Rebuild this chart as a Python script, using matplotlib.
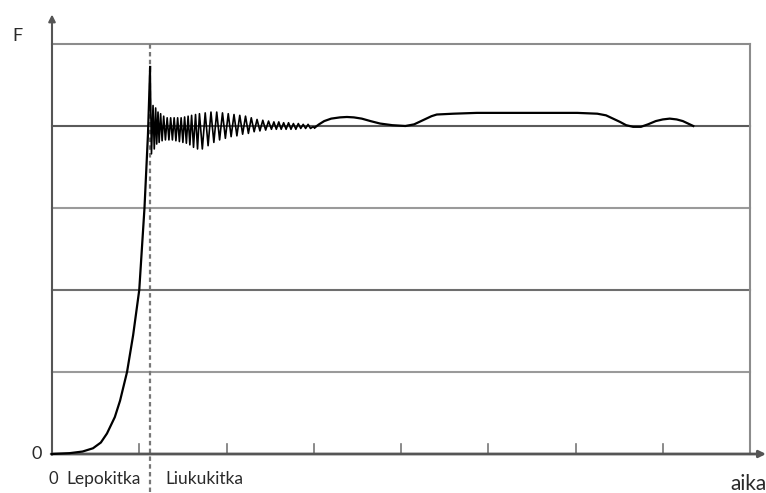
import matplotlib.pyplot as plt

# time axis: tick units, force axis: grid levels (4 = kinetic friction level)
rise_t = [0.0, 0.2, 0.35, 0.47, 0.56, 0.63, 0.72, 0.78, 0.86, 0.93, 1.0, 1.06, 1.1]
rise_f = [0.0, 0.01, 0.03, 0.07, 0.14, 0.25, 0.45, 0.65, 1.0, 1.45, 2.0, 3.0, 3.9]

osc_t = [1.125, 1.140, 1.158, 1.172, 1.188, 1.200, 1.215, 1.228, 1.245, 1.262,
         1.280, 1.300, 1.320, 1.340, 1.360, 1.380, 1.400, 1.420, 1.440, 1.460,
         1.480, 1.500, 1.520, 1.540, 1.560, 1.580, 1.600, 1.622, 1.645, 1.668,
         1.690, 1.723, 1.756, 1.789, 1.822, 1.855, 1.888, 1.921, 1.954, 1.987,
         2.020, 2.053, 2.086, 2.119, 2.152, 2.185, 2.218, 2.251, 2.284, 2.317,
         2.350, 2.383, 2.416, 2.449, 2.482, 2.515, 2.543, 2.571, 2.599, 2.627,
         2.655, 2.683, 2.711, 2.739, 2.767, 2.795, 2.823, 2.851, 2.879, 2.907,
         2.935, 2.963, 2.991]
osc_f = [4.72, 3.66, 4.25, 3.72, 4.22, 3.78, 4.17, 3.80, 4.15, 3.82,
         4.12, 3.83, 4.10, 3.83, 4.10, 3.83, 4.10, 3.82, 4.10, 3.81,
         4.10, 3.80, 4.11, 3.79, 4.12, 3.77, 4.13, 3.74, 4.14, 3.72,
         4.15, 3.72, 4.16, 3.76, 4.17, 3.80, 4.17, 3.83, 4.16, 3.85,
         4.15, 3.87, 4.14, 3.88, 4.13, 3.90, 4.12, 3.91, 4.10, 3.93,
         4.08, 3.94, 4.07, 3.95, 4.06, 3.96, 4.05, 3.96, 4.05, 3.96,
         4.04, 3.96, 4.04, 3.96, 4.03, 3.96, 4.03, 3.97, 4.02, 3.97,
         4.02, 3.97, 3.99]

slide_t = [3.01, 3.06, 3.12, 3.2, 3.3, 3.38, 3.46, 3.55, 3.65, 3.76, 3.9, 4.05,
           4.15, 4.25, 4.35, 4.41, 4.6, 4.87, 5.3, 5.7, 6.02, 6.25, 6.35, 6.43,
           6.51, 6.58, 6.66, 6.75, 6.83, 6.92, 7.0, 7.08, 7.16, 7.23, 7.29, 7.35]
slide_f = [3.98, 4.02, 4.06, 4.09, 4.105, 4.11, 4.105, 4.09, 4.06, 4.03, 4.01, 4.0,
           4.02, 4.07, 4.12, 4.14, 4.15, 4.16, 4.16, 4.16, 4.16, 4.15, 4.13, 4.09,
           4.05, 4.01, 3.99, 3.99, 4.02, 4.06, 4.08, 4.09, 4.08, 4.06, 4.03, 4.0]

grid_levels = [1, 2, 3, 4, 5]
grid_colors = ['#9a9a9a', '#6e6e6e', '#9a9a9a', '#5a5a5a', '#8c8c8c']
tick_t = [1, 2, 3, 4, 5, 6, 7]
t_switch = 1.123
t_end = 8

fig = plt.figure(figsize=(7.66, 4.93), dpi=100)
ax = fig.add_axes([0, 0, 1, 1])
ax.set_xlim(-52 / 87.25, 714 / 87.25)
ax.set_ylim(-39 / 82, 454 / 82)
ax.axis('off')

# grid and frame
for lev, col in zip(grid_levels, grid_colors):
    ax.plot([0, t_end], [lev, lev], color=col, lw=1.5, zorder=1)
ax.plot([t_end, t_end], [0, 5], color='#8c8c8c', lw=1.5, zorder=1)
for t in tick_t:
    ax.plot([t, t], [0, 0.12], color='#777777', lw=1.2, zorder=1)

# axes with arrows
ax.annotate('', xy=(0, 5.36), xytext=(0, -0.01),
            arrowprops=dict(arrowstyle='-|>', color='#555555', lw=1.5,
                            mutation_scale=10, shrinkA=0, shrinkB=0))
ax.annotate('', xy=(714 / 87.25, 0), xytext=(-0.01, 0),
            arrowprops=dict(arrowstyle='-|>', color='#555555', lw=2.0,
                            mutation_scale=10, shrinkA=0, shrinkB=0))

# boundary between static and kinetic friction
ax.plot([t_switch, t_switch], [-0.46, 5.0], color='#777777', lw=1.6,
        ls=(0, (2, 1.5)), zorder=2, clip_on=False)

# force curve
ax.plot(rise_t + [osc_t[0]], rise_f + [osc_f[0]], color='black', lw=1.6, zorder=3)
ax.plot(osc_t + [slide_t[0]], osc_f + [slide_f[0]], color='black', lw=1.2, zorder=3)
ax.plot(slide_t, slide_f, color='black', lw=1.6, zorder=3)

txt = dict(family='Lato', color='#2a2a2a')
ax.text(-0.4, 5.1, 'F', fontsize=13, ha='center', va='center', **txt)
ax.text(-0.17, 0.0, '0', fontsize=13, ha='center', va='center', **txt)
ax.text(0.01, -0.3, '0', fontsize=12, ha='center', va='center', **txt)
ax.text(0.17, -0.3, 'Lepokitka', fontsize=12.5, ha='left', va='center', **txt)
ax.text(1.30, -0.3, 'Liukukitka', fontsize=12.5, ha='left', va='center', **txt)
ax.text(8.19, -0.37, 'aika', fontsize=15, ha='right', va='center', **txt)

fig.savefig('out.png', dpi=100)
